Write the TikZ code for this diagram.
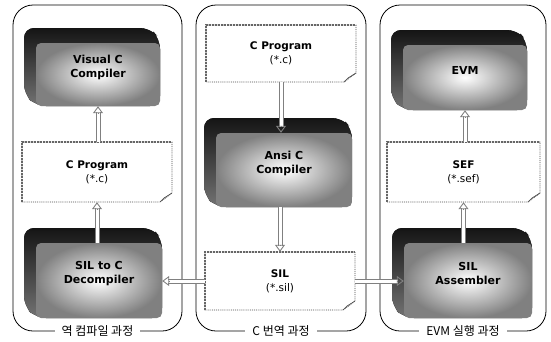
\documentclass[tikz,border=0pt]{standalone}
\usepackage{fontspec}
\setmainfont{DejaVu Sans}
\newfontfamily\hangul{Noto Sans CJK KR}
\usetikzlibrary{arrows.meta,calc}

\tikzset{
  panel/.style={draw=black, line width=0.8pt, rounded corners=20pt},
  panellabel/.style={fill=white, inner xsep=7pt, inner ysep=1pt, font=\hangul\fontsize{12}{13}\selectfont},
  docbox/.style={inner sep=0pt, align=center, font=\fontsize{10.5}{14}\selectfont},
  docedge/.style={draw=black!70, line width=0.9pt, densely dotted, fill=white},
  docshade/.style={draw=black!60, line width=2pt, densely dotted},
  face/.style={rounded corners=5pt, inner sep=0pt, inner color=white, outer color=black!50},
  facetext/.style={align=center, inner sep=1pt, font=\bfseries\fontsize{11}{14}\selectfont},
  shaftout/.style={draw=black!50, line width=5pt, shorten >=6pt},
  shaftin/.style={draw=white, line width=3pt, shorten >=6pt},
  tiphead/.style={draw=black!50, line width=0.9pt, -{Triangle[open, length=7pt, width=10pt]}},
}

% a hollow flow arrow from #1 to #2
\newcommand\flow[2]{%
  \draw[shaftout] #1 -- #2;
  \draw[shaftin] #1 -- #2;
  \draw[tiphead] ($#2!7pt!#1$) -- #2;
}

% doc sheet with a curled lower right corner: name, left, top, right, bottom, text
\newcommand\sheet[6]{%
  \node[docbox, minimum width={#4-#2}, minimum height={#5-#3}] (#1) at ({(#2+#4)/2},{(#3+#5)/2}) {#6};
  \begin{pgfonlayer}{sheets}
  \path[docedge] (#2,#3) -- (#4,#3) -- (#4,#5-9) -- (#4-12,#5) -- (#2,#5) -- cycle;
  \draw[docshade] (#2,#5) -- (#2,#3) -- (#4,#3);
  \fill[black!35] (#4-12,#5) -- (#4,#5-9) -- (#4-8,#5-4) -- cycle;
  \draw[black!70, line width=0.6pt] (#4-12,#5) -- (#4-8,#5-4) -- (#4,#5-9);
  \end{pgfonlayer}
}

% shaded brick: face name, text name, left, top, right, bottom, text
\newcommand\brick[7]{%
  \begin{pgfonlayer}{sheets}
  \fill[rounded corners=10pt, top color=black!92, bottom color=black!55]
    (#3-12,#4-15) -- (#5-10,#4-15) -- (#5,#4-4) -- (#5,#6) -- (#3,#6) -- (#3-12,#6-12) -- cycle;
  \node[face, minimum width={#5-#3}, minimum height={#6-#4}] (#1) at ({(#3+#5)/2},{(#4+#6)/2}) {};
  \end{pgfonlayer}
  \node[facetext] (#2) at ({(#3+#5)/2},{(#4+#6)/2-7}) {#7};
}

\pgfdeclarelayer{sheets}
\pgfsetlayers{sheets,main}

\begin{document}
\begin{tikzpicture}[x=1pt, y=-1pt]
\useasboundingbox (0,0) rectangle (551,341);

% three stage panels
\draw[panel] (13,5) rectangle (182,331);
\draw[panel] (196,5) rectangle (366,331);
\draw[panel] (380,5) rectangle (546,331);
\node[panellabel] (lbl1) at (97.5,331) {역 컴파일 과정};
\node[panellabel] (lbl2) at (281,331) {C 번역 과정};
\node[panellabel] (lbl3) at (463,331) {EVM 실행 과정};

% reverse compilation
\brick{vc}{vct}{36}{43}{160}{106}{Visual C\\Compiler}
\sheet{lcp}{22}{142}{172}{202}{\textbf{C Program}\\(*.c)}
\brick{dec}{dect}{36}{243}{162}{318}{SIL to C\\Decompiler}

% C translation
\sheet{mcp}{206}{25}{356}{82}{\textbf{C Program}\\(*.c)}
\brick{ansi}{ansit}{216}{133}{352}{207}{Ansi C\\Compiler}
\sheet{sil}{205}{252}{355}{310}{\textbf{SIL}\\(*.sil)}

% EVM execution
\brick{evm}{evmt}{403}{45}{527}{110}{EVM}
\sheet{sef}{387}{142}{540}{202}{\textbf{SEF}\\(*.sef)}
\brick{asm}{asmt}{404}{243}{532}{318}{SIL\\Assembler}

% data flow
\coordinate (vcin) at (lcp.north -| vc.south);
\coordinate (decout) at (dec.north -| lcp.south);
\coordinate (ansiin) at (mcp.south |- ansi.north);
\coordinate (ansiout) at (ansi.south -| sil.north);
\coordinate (evmin) at (sef.north -| evm.south);
\coordinate (asmout) at (asm.north -| sef.south);
\coordinate (decin) at (sil.west -| dec.east);
\coordinate (asmin) at (sil.east -| asm.west);
\flow{(vcin)}{(vc.south)}
\flow{(decout)}{(lcp.south)}
\flow{(mcp.south)}{(ansiin)}
\flow{(ansiout)}{(sil.north)}
\flow{(evmin)}{(evm.south)}
\flow{(asmout)}{(sef.south)}
\flow{(sil.west)}{(decin)}
\flow{(sil.east)}{(asmin)}
\end{tikzpicture}
\end{document}
